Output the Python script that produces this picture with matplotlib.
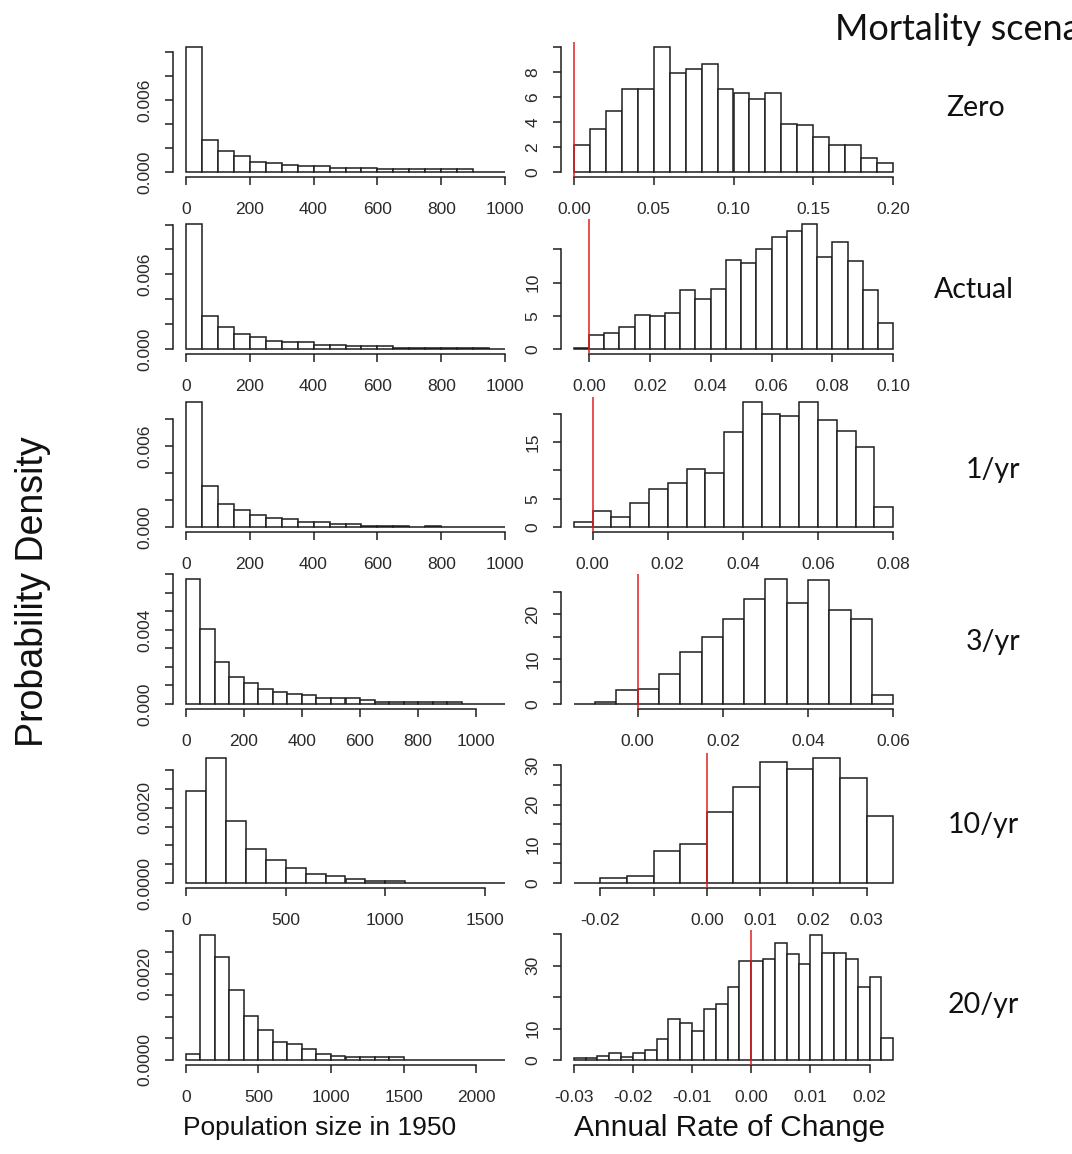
import numpy as np
import matplotlib.pyplot as plt

plt.rcParams['font.family'] = ['Liberation Sans', 'DejaVu Sans']

SCENARIOS = ['Zero', 'Actual', '1/yr', '3/yr', '10/yr', '20/yr']

# Population size in 1950 -- probability density per bin
POP_ZERO = [0.01041, 0.0027, 0.00172, 0.00134, 0.00087, 0.00079, 0.0006, 0.00049,
            0.00049, 0.00033, 0.00033, 0.00033, 0.00022, 0.00022, 0.00022, 0.00022,
            0.00022, 0.00022, 0, 0]
POP_ACTUAL = [0.01005, 0.00266, 0.00176, 0.0012, 0.00093, 0.00061, 0.00053, 0.00053,
              0.00035, 0.00035, 0.00024, 0.00024, 0.00024, 0.00005, 0.00005, 0.00005,
              0.00005, 0.00005, 0.00005, 0]
POP_1YR = [0.00924, 0.00305, 0.00173, 0.00124, 0.00087, 0.00064, 0.00057, 0.00035,
           0.00035, 0.00025, 0.00025, 0.00007, 0.00007, 0.00007, 0, 0.0001,
           0, 0, 0, 0]
POP_3YR = [0.00675, 0.00407, 0.00225, 0.00146, 0.00114, 0.00081, 0.00063, 0.00056,
           0.0005, 0.00032, 0.00032, 0.00032, 0.0002, 0.00011, 0.00011, 0.00011,
           0.00011, 0.00011, 0.00011, 0, 0, 0]
POP_10YR = [0.00245, 0.00332, 0.00165, 0.00091, 0.00062, 0.0004, 0.00025, 0.00019,
            0.0001, 0.00004, 0.00004, 0, 0, 0, 0, 0]
POP_20YR = [0.00014, 0.0029, 0.00239, 0.00162, 0.00102, 0.0007, 0.00041, 0.00036,
            0.00025, 0.00014, 0.0001, 0.00007, 0.00007, 0.00007, 0.00007,
            0, 0, 0, 0, 0, 0, 0]

# Annual rate of change -- probability density per bin
RATE_ZERO = [2.2, 3.47, 4.9, 6.66, 6.66, 10.0, 7.95, 8.24, 8.68, 6.68, 6.3, 5.87,
             6.3, 3.84, 3.76, 2.84, 2.18, 2.18, 1.1, 0.71]
RATE_ACTUAL = [0.2, 2.04, 2.39, 3.29, 5.18, 4.98, 5.48, 8.82, 7.47, 8.97, 13.35, 13.0,
               15.1, 16.8, 17.84, 18.83, 13.85, 16.1, 13.25, 8.82, 3.94]
RATE_1YR = [0.89, 2.78, 1.83, 4.2, 6.69, 7.75, 10.18, 9.59, 16.75, 22.07, 20.0, 19.64,
            22.07, 18.82, 16.92, 14.2, 3.55]
RATE_3YR = [0, 0.5, 3.1, 3.4, 6.7, 11.6, 14.8, 19.0, 23.4, 27.8, 22.4, 27.5, 21.0,
            19.0, 2.0]
RATE_10YR = [0, 1.28, 1.88, 8.12, 9.83, 18.1, 24.4, 30.9, 29.1, 31.9, 26.7, 17.1]
RATE_20YR = [0.73, 0.73, 1.25, 2.28, 0.93, 2.28, 3.3, 6.65, 12.9, 11.6, 9.1, 16.1,
             17.9, 23.3, 31.6, 31.6, 32.2, 37.1, 33.7, 30.6, 39.7, 34.1, 34.1, 32.2,
             23.3, 26.5, 7.0]

# (first break, bin width) for each histogram
POP_BINS = [(0, 50), (0, 50), (0, 50), (0, 50), (0, 100), (0, 100)]
RATE_BINS = [(0.0, 0.01), (-0.005, 0.005), (-0.005, 0.005), (-0.015, 0.005),
             (-0.025, 0.005), (-0.03, 0.002)]

POP_XTICKS = [
    ([0, 200, 400, 600, 800, 1000], ['0', '200', '400', '600', '800', '1000']),
    ([0, 200, 400, 600, 800, 1000], ['0', '200', '400', '600', '800', '1000']),
    ([0, 200, 400, 600, 800, 1000], ['0', '200', '400', '600', '800', '1000']),
    ([0, 200, 400, 600, 800, 1000], ['0', '200', '400', '600', '800', '1000']),
    ([0, 500, 1000, 1500], ['0', '500', '1000', '1500']),
    ([0, 500, 1000, 1500, 2000], ['0', '500', '1000', '1500', '2000']),
]
POP_YTICKS = [
    ([0, 0.002, 0.004, 0.006, 0.008, 0.010], ['0.000', '', '', '0.006', '', '']),
    ([0, 0.002, 0.004, 0.006, 0.008, 0.010], ['0.000', '', '', '0.006', '', '']),
    ([0, 0.002, 0.004, 0.006, 0.008], ['0.000', '', '', '0.006', '']),
    ([0, 0.001, 0.002, 0.003, 0.004, 0.005, 0.006, 0.007],
     ['0.000', '', '', '', '0.004', '', '', '']),
    ([0, 0.0005, 0.001, 0.0015, 0.002, 0.0025, 0.003],
     ['0.0000', '', '', '', '0.0020', '', '']),
    ([0, 0.0005, 0.001, 0.0015, 0.002, 0.0025, 0.003],
     ['0.0000', '', '', '', '0.0020', '', '']),
]
RATE_XTICKS = [
    ([0, 0.05, 0.10, 0.15, 0.20], ['0.00', '0.05', '0.10', '0.15', '0.20']),
    ([0, 0.02, 0.04, 0.06, 0.08, 0.10], ['0.00', '0.02', '0.04', '0.06', '0.08', '0.10']),
    ([0, 0.02, 0.04, 0.06, 0.08], ['0.00', '0.02', '0.04', '0.06', '0.08']),
    ([0, 0.02, 0.04, 0.06], ['0.00', '0.02', '0.04', '0.06']),
    ([-0.02, -0.01, 0, 0.01, 0.02, 0.03], ['-0.02', '', '0.00', '0.01', '0.02', '0.03']),
    ([-0.03, -0.02, -0.01, 0, 0.01, 0.02], ['-0.03', '-0.02', '-0.01', '0.00', '0.01', '0.02']),
]
RATE_YTICKS = [
    ([0, 2, 4, 6, 8, 10], ['0', '2', '4', '6', '8', '']),
    ([0, 5, 10, 15], ['0', '5', '10', '']),
    ([0, 5, 10, 15, 20], ['0', '5', '', '15', '']),
    ([0, 5, 10, 15, 20, 25], ['0', '', '10', '', '20', '']),
    ([0, 5, 10, 15, 20, 25, 30], ['0', '', '10', '', '20', '', '30']),
    ([0, 10, 20, 30, 40], ['0', '10', '', '30', '']),
]

POP_DATA = [POP_ZERO, POP_ACTUAL, POP_1YR, POP_3YR, POP_10YR, POP_20YR]
RATE_DATA = [RATE_ZERO, RATE_ACTUAL, RATE_1YR, RATE_3YR, RATE_10YR, RATE_20YR]

# layout in pixels
W, H = 1072, 1154
ROW_AXIS_Y = [177, 354, 532, 709, 888, 1065]
PANEL_H = 135
PANEL_W = 345
COL_X = [173, 561]
INK = '#1e1e1e'


def add_panel(fig, left, bottom):
    return fig.add_axes([left / W, 1 - bottom / H, PANEL_W / W, PANEL_H / H])


def draw_hist(ax, bins, heights, xticks, yticks, vline=None):
    start, width = bins
    heights = np.asarray(heights, dtype=float)
    edges = start + width * np.arange(len(heights) + 1)
    ax.bar(edges[:-1], heights, width=width, align='edge', color='white',
           edgecolor=INK, linewidth=1.1)

    # R style: 4% padding around data range
    x0, x1 = edges[0], edges[-1]
    pad = 0.04 * (x1 - x0)
    ax.set_xlim(x0 - pad, x1 + pad)
    top = heights.max()
    ax.set_ylim(-0.04 * top, 1.04 * top)

    if vline is not None:
        ax.axvline(vline, color='#e02020', linewidth=1.1, zorder=3)

    for side in ['top', 'right']:
        ax.spines[side].set_visible(False)
    for side in ['left', 'bottom']:
        ax.spines[side].set_color(INK)
        ax.spines[side].set_linewidth(1.1)

    ax.set_xticks(xticks[0])
    ax.set_xticklabels(xticks[1])
    ax.set_yticks(yticks[0])
    ax.set_yticklabels(yticks[1], rotation=90, va='center')
    ax.spines['bottom'].set_bounds(xticks[0][0], xticks[0][-1])
    ax.spines['left'].set_bounds(yticks[0][0], yticks[0][-1])
    ax.tick_params(axis='both', direction='out', length=5.8, width=1.1,
                   color=INK, labelcolor='#2a2a2a', labelsize=12.5)
    ax.tick_params(axis='x', pad=12)
    ax.tick_params(axis='y', pad=9)
    ax.set_facecolor('none')


fig = plt.figure(figsize=(W / 100, H / 100), dpi=100)

for i in range(6):
    ax_pop = add_panel(fig, COL_X[0], ROW_AXIS_Y[i])
    draw_hist(ax_pop, POP_BINS[i], POP_DATA[i], POP_XTICKS[i], POP_YTICKS[i])

    ax_rate = add_panel(fig, COL_X[1], ROW_AXIS_Y[i])
    draw_hist(ax_rate, RATE_BINS[i], RATE_DATA[i], RATE_XTICKS[i], RATE_YTICKS[i], vline=0)

# scenario labels on the right
label_pos = [(976, 108), (974, 290), (993, 470), (993, 642), (983, 825), (983, 1005)]
for name, (x, y) in zip(SCENARIOS, label_pos):
    fig.text(x / W, 1 - y / H, name, ha='center', va='center', fontsize=20.5,
             family=['Lato', 'DejaVu Sans'], color='#111111')

# the header runs off the right edge in the original figure
fig.text(835 / W, 1 - 29 / H, 'Mortality scenario', ha='left', va='center',
         fontsize=26, family=['Lato', 'DejaVu Sans'], color='#111111')

fig.text(33 / W, 1 - 592 / H, 'Probability Density', rotation=90, ha='center',
         va='center', fontsize=27, color='#111111')
fig.text(320 / W, 1 - 1128 / H, 'Population size in 1950', ha='center',
         va='center', fontsize=19, color='#111111')
fig.text(730 / W, 1 - 1128 / H, 'Annual Rate of Change', ha='center',
         va='center', fontsize=21.5, color='#111111')

fig.savefig('out.png', dpi=100, facecolor='white')
